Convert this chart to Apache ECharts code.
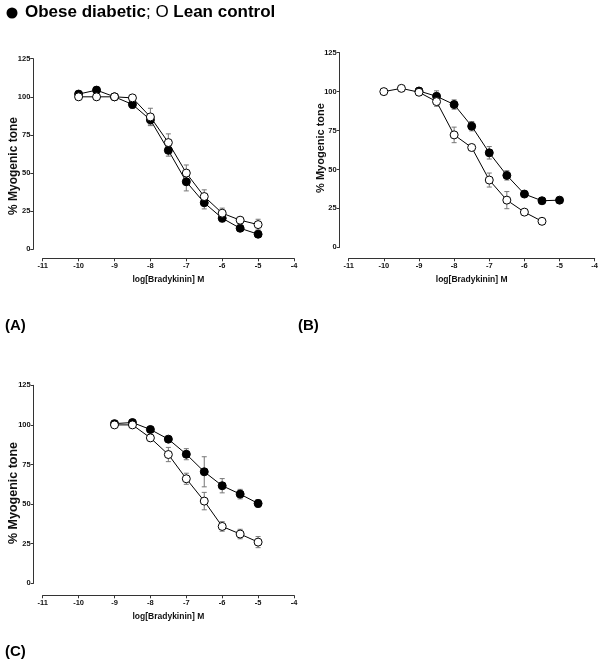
<!DOCTYPE html>
<html><head><meta charset="utf-8">
<script src="https://cdn.jsdelivr.net/npm/echarts@6/dist/echarts.min.js"></script>
<style>html,body{margin:0;padding:0;background:#fff}#c{width:604px;height:668px}</style>
</head><body><div id="c"></div>
<script>
// ---- Data ----
const yTicks = [0, 25, 50, 75, 100, 125];
const xTicks = [-11, -10, -9, -8, -7, -6, -5, -4];

// Panel A
const aObeseX = [-10, -9.5, -9, -8.5, -8, -7.5, -7, -6.5, -6, -5.5, -5];
const aObeseY = [101.8, 104.4, 100, 95, 84.9, 64.9, 44.3, 30.5, 20.4, 13.8, 9.9];
const aObeseE = [1, 1, 1, 2.7, 3.3, 3.8, 6, 4, 2.5, 1, 1];
const aLeanX  = [-10, -9.5, -9, -8.5, -8, -7.5, -7, -6.5, -6, -5.5, -5];
const aLeanY  = [100, 100, 100, 99.3, 86.8, 70, 50, 34.6, 23.7, 19.1, 16.2];
const aLeanE  = [0, 0, 0, 1, 5.7, 5.7, 5.3, 4.4, 3.3, 1.5, 3.5];

// Panel B
const bObeseX = [-9, -8.5, -8, -7.5, -7, -6.5, -6, -5.5, -5];
const bObeseY = [100.4, 97, 91.7, 77.8, 60.7, 46.2, 34.2, 29.9, 30.3];
const bObeseE = [1, 3.5, 3, 3, 4, 3, 1.5, 1.5, 1.5];
const bLeanX  = [-10, -9.5, -9, -8.5, -8, -7.5, -7, -6.5, -6, -5.5];
const bLeanY  = [100, 102.1, 99.6, 93.6, 72.2, 64.1, 43.2, 30.3, 22.6, 16.7];
const bLeanE  = [0, 0, 1, 3, 5, 2, 4.5, 5.5, 1.5, 1];

// Panel C
const cObeseX = [-9, -8.5, -8, -7.5, -7, -6.5, -6, -5.5, -5];
const cObeseY = [100.8, 101.5, 97.1, 91, 81.5, 70.4, 61.6, 56.3, 50.4];
const cObeseE = [1, 1, 1.5, 1.5, 3.5, 9.5, 4.5, 3, 2.5];
const cLeanX  = [-9, -8.5, -8, -7.5, -7, -6.5, -6, -5.5, -5];
const cLeanY  = [100, 100, 91.8, 81.3, 66, 51.9, 35.9, 31.1, 26];
const cLeanE  = [0, 0, 2, 4.5, 3.5, 5.5, 3, 3, 3.5];

const legendObese = 'Obese diabetic';
const legendLean = 'Lean control';
const xName = 'log[Bradykinin] M';
const yName = '% Myogenic tone';
const panelLabels = ['(A)', '(B)', '(C)'];

// ---- Layout ----
const grids = [
  {left: 42.7, top: 58.7, width: 251.3, height: 190.6, yOff: 9.4, xOff: 9, yNameX: 13.5, yNameY: 166, yNameSize: 12},
  {left: 348.7, top: 52.7, width: 246, height: 194.6, yOff: 9, xOff: 11, yNameX: 320.5, yNameY: 148, yNameSize: 11},
  {left: 42.7, top: 385.3, width: 251.3, height: 198, yOff: 9, xOff: 12, yNameX: 13.5, yNameY: 493, yNameSize: 12.5}
];
const panels = [
  [aObeseX, aObeseY, aObeseE, aLeanX, aLeanY, aLeanE],
  [bObeseX, bObeseY, bObeseE, bLeanX, bLeanY, bLeanE],
  [cObeseX, cObeseY, cObeseE, cLeanX, cLeanY, cLeanE]
];
const FONT = 'Liberation Sans, Arial, sans-serif';
const axisCol = '#333';

const option = {
  backgroundColor: '#fff',
  animation: false,
  grid: [], xAxis: [], yAxis: [], series: [],
  graphic: []
};

function zip(xs, ys) { return xs.map((x, i) => [x, ys[i]]); }
function zip3(xs, ys, es) { return xs.map((x, i) => [x, ys[i], es[i]]); }

function errRender(params, api) {
  const x = api.value(0), m = api.value(1), e = api.value(2);
  if (!e) return null;
  const t = api.coord([x, m + e]), b = api.coord([x, m - e]);
  const w = 2.5;
  const st = {stroke: '#777', lineWidth: 1};
  return {type: 'group', children: [
    {type: 'line', shape: {x1: t[0], y1: t[1], x2: b[0], y2: b[1]}, style: st},
    {type: 'line', shape: {x1: t[0]-w, y1: t[1], x2: t[0]+w, y2: t[1]}, style: st},
    {type: 'line', shape: {x1: b[0]-w, y1: b[1], x2: b[0]+w, y2: b[1]}, style: st}
  ]};
}

grids.forEach((g, i) => {
  option.grid.push({left: g.left, top: g.top, width: g.width, height: g.height, containLabel: false});
  option.xAxis.push({
    gridIndex: i, type: 'value', min: -11, max: -4, interval: 1, offset: g.xOff,
    name: xName, nameLocation: 'middle', nameGap: 17,
    nameTextStyle: {fontFamily: FONT, fontWeight: 'bold', fontSize: 8.5, color: '#111'},
    axisLine: {show: true, onZero: false, lineStyle: {color: axisCol, width: 1}},
    axisTick: {show: true, length: 3, lineStyle: {color: axisCol}},
    axisLabel: {fontFamily: FONT, fontWeight: 'bold', fontSize: 7.5, color: '#111', margin: 4,
      formatter: v => xTicks.includes(v) ? String(v) : ''},
    splitLine: {show: false}
  });
  option.yAxis.push({
    gridIndex: i, type: 'value', min: 0, max: 125, interval: 25, offset: g.yOff,
    axisLine: {show: true, lineStyle: {color: axisCol, width: 1}},
    axisTick: {show: true, length: 3, lineStyle: {color: axisCol}},
    axisLabel: {fontFamily: FONT, fontWeight: 'bold', fontSize: 7.5, color: '#111', margin: 3,
      formatter: v => yTicks.includes(v) ? String(v) : ''},
    splitLine: {show: false}
  });
  option.graphic.push({
    type: 'text', x: g.yNameX, y: g.yNameY, rotation: Math.PI / 2,
    style: {text: yName, fontFamily: FONT, fontWeight: 'bold', fontSize: g.yNameSize, fill: '#111',
      align: 'center', verticalAlign: 'middle'}
  });
  const [ox, oy, oe, lx, ly, le] = panels[i];
  option.series.push(
    {type: 'custom', xAxisIndex: i, yAxisIndex: i, renderItem: errRender, data: zip3(ox, oy, oe), z: 1, silent: true},
    {type: 'custom', xAxisIndex: i, yAxisIndex: i, renderItem: errRender, data: zip3(lx, ly, le), z: 1, silent: true},
    {type: 'line', name: legendObese, xAxisIndex: i, yAxisIndex: i, data: zip(ox, oy), z: 3,
      symbol: 'circle', symbolSize: 8, lineStyle: {color: '#000', width: 1},
      itemStyle: {color: '#000', borderColor: '#000', borderWidth: 1}},
    {type: 'line', name: legendLean, xAxisIndex: i, yAxisIndex: i, data: zip(lx, ly), z: 4,
      symbol: 'circle', symbolSize: 8, showAllSymbol: true, lineStyle: {color: '#000', width: 1},
      itemStyle: {color: '#fff', borderColor: '#000', borderWidth: 1}}
  );
});

option.graphic.push(
  {type: 'circle', shape: {cx: 12, cy: 13, r: 5.5}, style: {fill: '#000'}},
  {type: 'text', left: 25, top: 4, style: {
    text: '{b|' + legendObese + '}{n|; O }{b|' + legendLean + '}',
    rich: {
      b: {fontFamily: FONT, fontWeight: 'bold', fontSize: 17, fill: '#000'},
      n: {fontFamily: FONT, fontWeight: 'normal', fontSize: 17, fill: '#000'}
    }
  }},
  {type: 'text', left: 5, top: 318, style: {text: panelLabels[0], fontFamily: FONT, fontWeight: 'bold', fontSize: 15, fill: '#000'}},
  {type: 'text', left: 298, top: 318, style: {text: panelLabels[1], fontFamily: FONT, fontWeight: 'bold', fontSize: 15, fill: '#000'}},
  {type: 'text', left: 5, top: 644, style: {text: panelLabels[2], fontFamily: FONT, fontWeight: 'bold', fontSize: 15, fill: '#000'}}
);

const chart = echarts.init(document.getElementById('c'), null, {renderer: 'canvas'});
chart.setOption(option);
</script></body></html>
